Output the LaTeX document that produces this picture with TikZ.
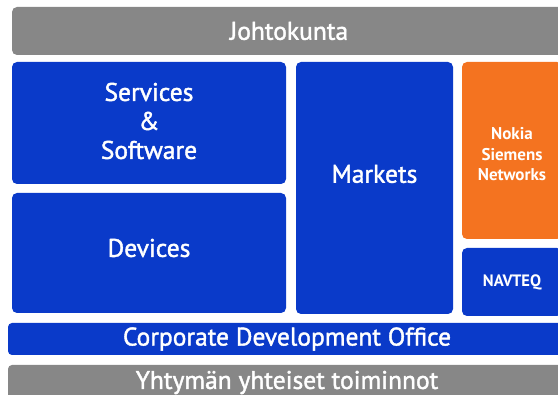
\documentclass[tikz,border=0pt]{standalone}
\usepackage{fontspec}
\setmainfont{PT Sans}
\newfontfamily\nokiamed{PT Sans}[BoldFont={PT Sans},BoldFeatures={FakeBold=1.6}]
\definecolor{nokiablue}{HTML}{0A3AC9}
\definecolor{nokiagray}{HTML}{878787}
\definecolor{nsnorange}{HTML}{F47320}
\begin{document}
\begin{tikzpicture}[
        x=1pt,y=-1pt,
        box/.style={rounded corners=5pt,text=white,align=center,inner sep=0pt,
            font=\nokiamed\bfseries\fontsize{25.5}{29}\selectfont},
        bluebox/.style={box,fill=nokiablue},
        graybar/.style={box,fill=nokiagray},
        smallbox/.style={box,font=\bfseries\fontsize{17}{20.5}\selectfont},
        ]
    \useasboundingbox (0,0) rectangle (558,395);
    % top and bottom bars
    \node (jk) [graybar,minimum width=554pt,minimum height=48pt] at (289,31) {};
    \node at (jk) [box] {Johtokunta};
    \node (cdo) [bluebox,minimum width=558pt,minimum height=32pt,rounded corners=4pt] at (287,339) {};
    \node at (cdo) [box] {Corporate Development Office};
    \node (yh) [graybar,minimum width=558pt,minimum height=36pt,rounded corners=4pt] at (287,383) {};
    \node at ([yshift=0.5pt]yh) [box] {Yhtymän yhteiset toiminnot};
    % business groups
    \node (ss) [bluebox,minimum width=274pt,minimum height=122pt] at (149,123) {};
    \node at ([yshift=2pt]ss) [box] {Services\\\&\\Software};
    \node (dev) [bluebox,minimum width=274pt,minimum height=120pt] at (149,253) {};
    \node at ([yshift=5pt]dev) [box] {Devices};
    \node (mk) [bluebox,minimum width=157pt,minimum height=252pt] at (374.5,188) {};
    \node at ([yshift=14pt]mk) [box] {Markets};
    % subsidiaries
    \node (nsn) [box,fill=nsnorange,minimum width=100pt,minimum height=177pt] at (512,150.5) {};
    \node at ([yshift=-4pt]nsn) [smallbox] {Nokia\\Siemens\\Networks};
    \node (nav) [bluebox,minimum width=100pt,minimum height=68pt] at (512,282) {};
    \node at (nav) [smallbox,font=\bfseries\fontsize{16.5}{20}\selectfont] {NAVTEQ};
\end{tikzpicture}
\end{document}
